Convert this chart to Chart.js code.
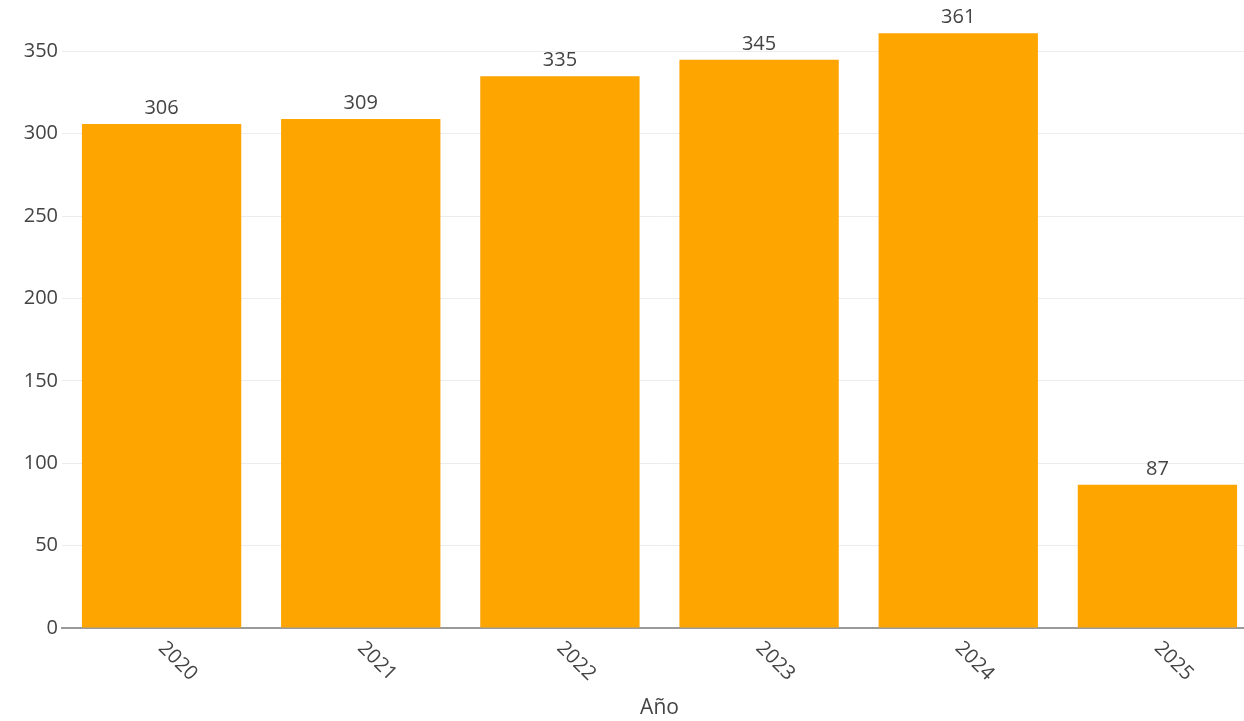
<!DOCTYPE html>
<html>
<head>
<meta charset="utf-8">
<script src="https://cdn.jsdelivr.net/npm/chart.js@4"></script>
<style>
  html, body { margin: 0; padding: 0; background: #fff; overflow: hidden; }
  #wrap { width: 1257px; height: 721px; }
</style>
</head>
<body>
<div id="wrap"><canvas id="chart" width="1257" height="721"></canvas></div>
<script>
// datos
const years = ['2020', '2021', '2022', '2023', '2024', '2025'];
const counts = [306, 309, 335, 345, 361, 87];
const yTicks = [0, 50, 100, 150, 200, 250, 300, 350];

const textColor = '#444';
const fontFamily = '"Open Sans", verdana, arial, sans-serif';
Chart.defaults.font.family = fontFamily;
Chart.defaults.font.size = 20;
Chart.defaults.color = textColor;

// etiquetas encima de las barras
const barLabels = {
  id: 'barLabels',
  afterDatasetsDraw(chart) {
    const ctx = chart.ctx;
    const meta = chart.getDatasetMeta(0);
    ctx.save();
    ctx.font = '20px ' + fontFamily;
    ctx.fillStyle = textColor;
    ctx.textAlign = 'center';
    ctx.textBaseline = 'alphabetic';
    meta.data.forEach((bar, i) => {
      ctx.fillText(String(counts[i]), bar.x, bar.y - 10);
    });
    ctx.restore();
  }
};

// etiquetas del eje x giradas 45 grados (hacia abajo)
const rotatedTicks = {
  id: 'rotatedTicks',
  afterDraw(chart) {
    const ctx = chart.ctx;
    const xs = chart.scales.x;
    ctx.save();
    ctx.font = '20px ' + fontFamily;
    ctx.fillStyle = textColor;
    ctx.textAlign = 'left';
    ctx.textBaseline = 'middle';
    years.forEach((y, i) => {
      const px = xs.getPixelForValue(i);
      ctx.save();
      ctx.translate(px, xs.top + 17);
      ctx.rotate(Math.PI / 4);
      ctx.fillText(y, 0, 0);
      ctx.restore();
    });
    ctx.restore();
  }
};

const ctx = document.getElementById('chart').getContext('2d');
new Chart(ctx, {
  type: 'bar',
  data: {
    labels: years,
    datasets: [{
      label: 'Año',
      data: counts,
      backgroundColor: '#FFA500',
      borderWidth: 0,
      categoryPercentage: 1.0,
      barPercentage: 0.8
    }]
  },
  options: {
    responsive: false,
    animation: false,
    devicePixelRatio: 1,
    layout: { padding: { top: 2, left: 0, right: 0, bottom: 0 } },
    plugins: {
      legend: { display: false },
      tooltip: { enabled: false }
    },
    scales: {
      x: {
        grid: { display: false, drawTicks: false },
        border: { display: true, color: '#9a9a9a', width: 2 },
        ticks: { display: false },
        title: {
          display: true,
          text: 'Año',
          color: textColor,
          font: { size: 21 },
          padding: { top: 0, bottom: 0 }
        },
        afterFit(scale) { scale.height = 93; }
      },
      y: {
        min: 0,
        max: 380,
        grid: { color: '#ececec', lineWidth: 1, drawTicks: false },
        border: { display: false },
        ticks: { padding: 4, color: textColor, font: { size: 20 } },
        afterBuildTicks(scale) {
          scale.ticks = yTicks.map(v => ({ value: v }));
        },
        afterFit(scale) {
          scale.width = 62;
          scale.paddingTop = 0;
          scale.paddingBottom = 0;
        }
      }
    }
  },
  plugins: [barLabels, rotatedTicks]
});
</script>
</body>
</html>
